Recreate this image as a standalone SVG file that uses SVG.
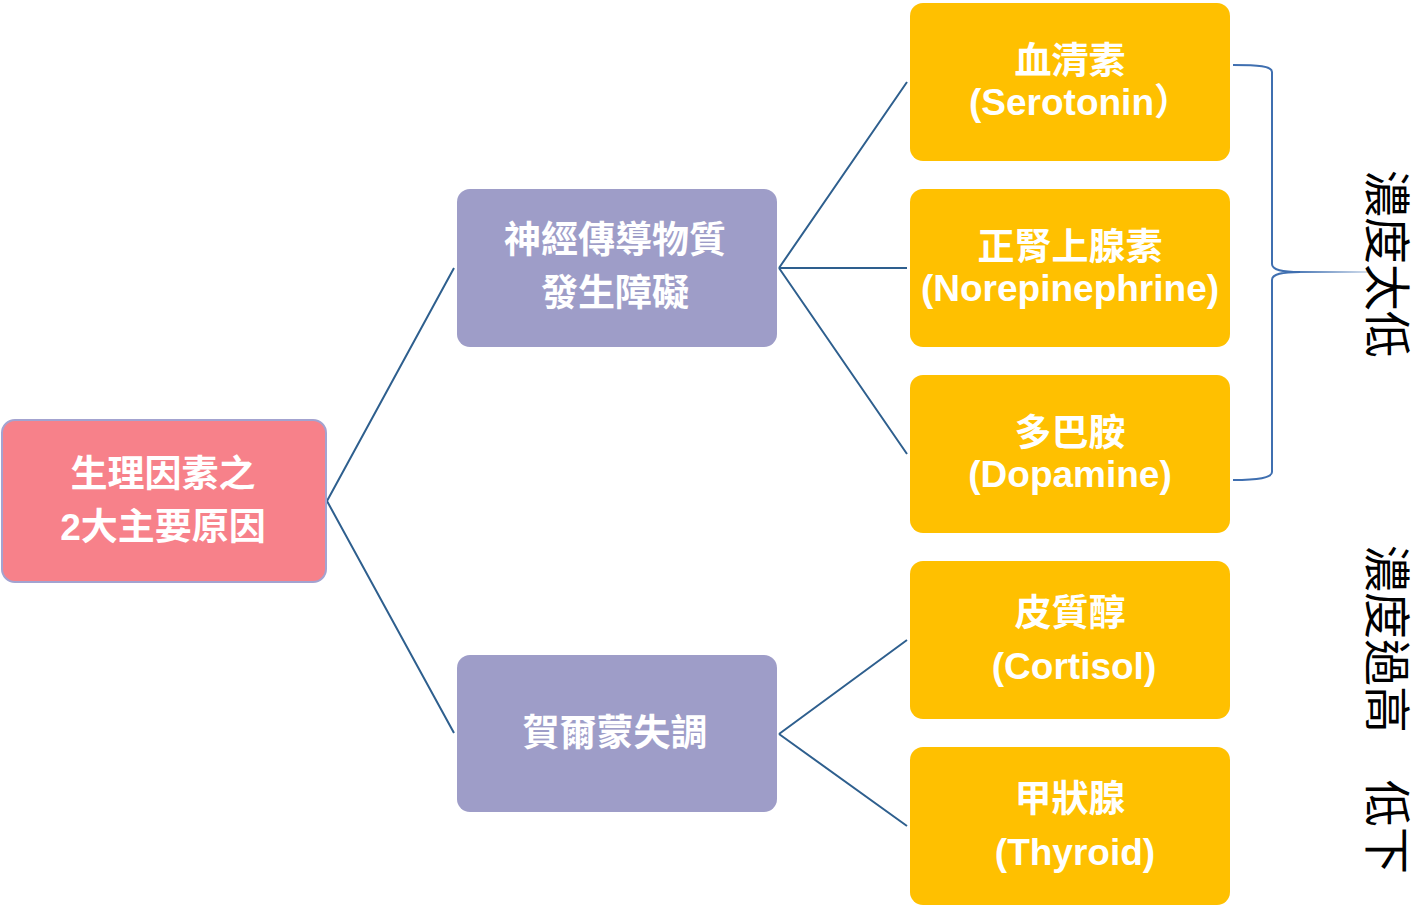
<svg xmlns="http://www.w3.org/2000/svg" width="1422" height="908" viewBox="0 0 1422 908">
<defs>
<style>
.root{fill:#F7818A;stroke:#A3A3D0;stroke-width:2}
.mid{fill:#9E9DC8}
.leaf{fill:#FFC000}
.t{font-family:"Liberation Sans","Noto Sans CJK TC",sans-serif;font-weight:bold;font-size:37px;fill:#FFFFFF;text-anchor:middle}
.conn{stroke:#2E5F8E;stroke-width:2;fill:none}
.brace{stroke:#3F6FB0;stroke-width:2;fill:none}
.vt{font-family:"Noto Sans CJK TC","Noto Sans CJK SC",sans-serif;font-size:47px;fill:#000000;dominant-baseline:central}
</style>
<linearGradient id="fade" x1="1290" y1="0" x2="1372" y2="0" gradientUnits="userSpaceOnUse">
<stop offset="0" stop-color="#3F6FB0"/>
<stop offset="1" stop-color="#3F6FB0" stop-opacity="0.2"/>
</linearGradient>
</defs>
<rect width="1422" height="908" fill="#FFFFFF"/>
<g id="connectors">
<path class="conn" d="M327,501 L454,268 M327,501 L454,733"/>
<path class="conn" d="M779,268 L907,82 M779,268 L907,268 M779,268 L907,454"/>
<path class="conn" d="M779,734 L907,640 M779,734 L907,826"/>
</g>
<g id="root">
<rect class="root" x="2" y="420" width="324" height="162" rx="13"/>
<text class="t" x="163" y="487">生理因素之</text>
<text class="t" x="163" y="540">2大主要原因</text>
</g>
<g id="neuro">
<rect class="mid" x="457" y="189" width="320" height="158" rx="13"/>
<text class="t" x="615" y="253">神經傳導物質</text>
<text class="t" x="615" y="306">發生障礙</text>
</g>
<g id="hormone">
<rect class="mid" x="457" y="655" width="320" height="157" rx="13"/>
<text class="t" x="615" y="746">賀爾蒙失調</text>
</g>
<g id="serotonin">
<rect class="leaf" x="910" y="3" width="320" height="158" rx="13"/>
<text class="t" x="1070" y="74">血清素</text>
<text class="t" x="1080" y="115">(Serotonin）</text>
</g>
<g id="norepinephrine">
<rect class="leaf" x="910" y="189" width="320" height="158" rx="13"/>
<text class="t" x="1070" y="260">正腎上腺素</text>
<text class="t" x="1070" y="301">(Norepinephrine)</text>
</g>
<g id="dopamine">
<rect class="leaf" x="910" y="375" width="320" height="158" rx="13"/>
<text class="t" x="1070" y="446">多巴胺</text>
<text class="t" x="1070" y="487">(Dopamine)</text>
</g>
<g id="cortisol">
<rect class="leaf" x="910" y="561" width="320" height="158" rx="13"/>
<text class="t" x="1070" y="626">皮質醇</text>
<text class="t" x="1074" y="679">(Cortisol)</text>
</g>
<g id="thyroid">
<rect class="leaf" x="910" y="747" width="320" height="158" rx="13"/>
<text class="t" x="1070" y="812">甲狀腺</text>
<text class="t" x="1075" y="865">(Thyroid)</text>
</g>
<g id="brace">
<path class="brace" d="M1233,65 C1258,65 1272,66 1272,72 L1272,264 C1272,270 1282,272 1300,272 M1300,272 C1282,272 1272,274 1272,280 L1272,472 C1272,478 1258,480 1233,480"/>
<path d="M1290,272 L1372,272" stroke="url(#fade)" stroke-width="2" fill="none"/>
</g>
<g id="labels">
<text class="vt" transform="translate(1390,170) rotate(90)">濃度太低</text>
<text class="vt" transform="translate(1390,545) rotate(90)">濃度過高　低下</text>
</g>
</svg>
